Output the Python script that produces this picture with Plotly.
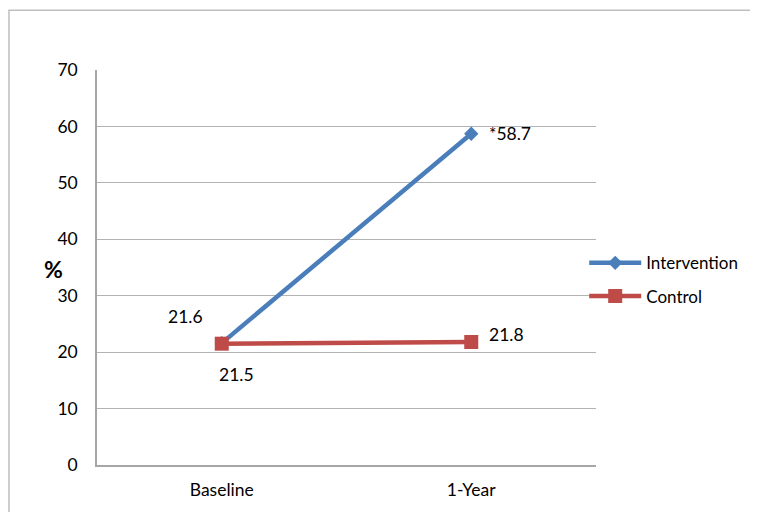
import plotly.graph_objects as go

categories = ["Baseline", "1-Year"]
intervention = [21.6, 58.7]
control = [21.5, 21.8]
intervention_labels = ["21.6", "*58.7"]
control_labels = ["21.5", "21.8"]
y_ticks = [0, 10, 20, 30, 40, 50, 60, 70]

BLUE = "#4A7EBB"
RED = "#BE4B48"
FONT = "Lato"
FS = 17.5

fig = go.Figure()
fig.add_trace(go.Scatter(
    x=categories, y=intervention, name="Intervention", mode="lines+markers",
    legendgroup="a",
    line=dict(color=BLUE, width=4.5),
    marker=dict(symbol="diamond", size=11, color=BLUE),
))
fig.add_trace(go.Scatter(
    x=categories, y=control, name="Control", mode="lines+markers",
    legendgroup="b",
    line=dict(color=RED, width=4.5),
    marker=dict(symbol="square", size=14, color=RED),
))

# data labels
offsets_i = [(-36, 27), (39, 0)]
offsets_c = [(15, -31), (35, 7)]
for cat, val, lab, (dx, dy) in zip(categories, intervention, intervention_labels, offsets_i):
    fig.add_annotation(x=cat, y=val, text=lab, showarrow=False, xshift=dx, yshift=dy,
                       font=dict(family=FONT, size=FS, color="#000"))
for cat, val, lab, (dx, dy) in zip(categories, control, control_labels, offsets_c):
    fig.add_annotation(x=cat, y=val, text=lab, showarrow=False, xshift=dx, yshift=dy,
                       font=dict(family=FONT, size=FS, color="#000"))

# y-axis title "%"
fig.add_annotation(xref="paper", yref="paper", x=-0.110, y=0.496, text="<b>%</b>",
                   showarrow=False, font=dict(family=FONT, size=23, color="#000"))

# outer frame
fig.add_shape(type="rect", xref="paper", yref="paper", x0=-0.1764, y0=-0.3, x1=1.5, y1=1.151,
              line=dict(color="#BFBFBF", width=1.5), fillcolor="rgba(0,0,0,0)", layer="below")

fig.update_layout(
    width=750, height=504,
    margin=dict(l=89, r=162, t=62, b=41),
    paper_bgcolor="white", plot_bgcolor="white",
    font=dict(family=FONT, size=FS, color="#000"),
    showlegend=True,
    legend=dict(x=1.295, y=0.469, xanchor="right", yanchor="middle",
                font=dict(family=FONT, size=17), tracegroupgap=8, itemwidth=52,
                bgcolor="rgba(0,0,0,0)", borderwidth=0),
    xaxis=dict(type="category", range=[-0.5, 1.5], showgrid=False,
               showline=True, linecolor="#A6A6A6", linewidth=1.5, ticks="",
               tickfont=dict(family=FONT, size=FS)),
    yaxis=dict(range=[0, 70], tickvals=y_ticks, showgrid=True, gridcolor="#B3B3B3", gridwidth=1.2,
               showline=True, linecolor="#A6A6A6", linewidth=1.5, ticks="", zeroline=False,
               tickfont=dict(family=FONT, size=FS)),
)
fig.update_xaxes(ticklabelstandoff=8)
fig.update_yaxes(ticklabelstandoff=14)

fig.write_html("out.html")
